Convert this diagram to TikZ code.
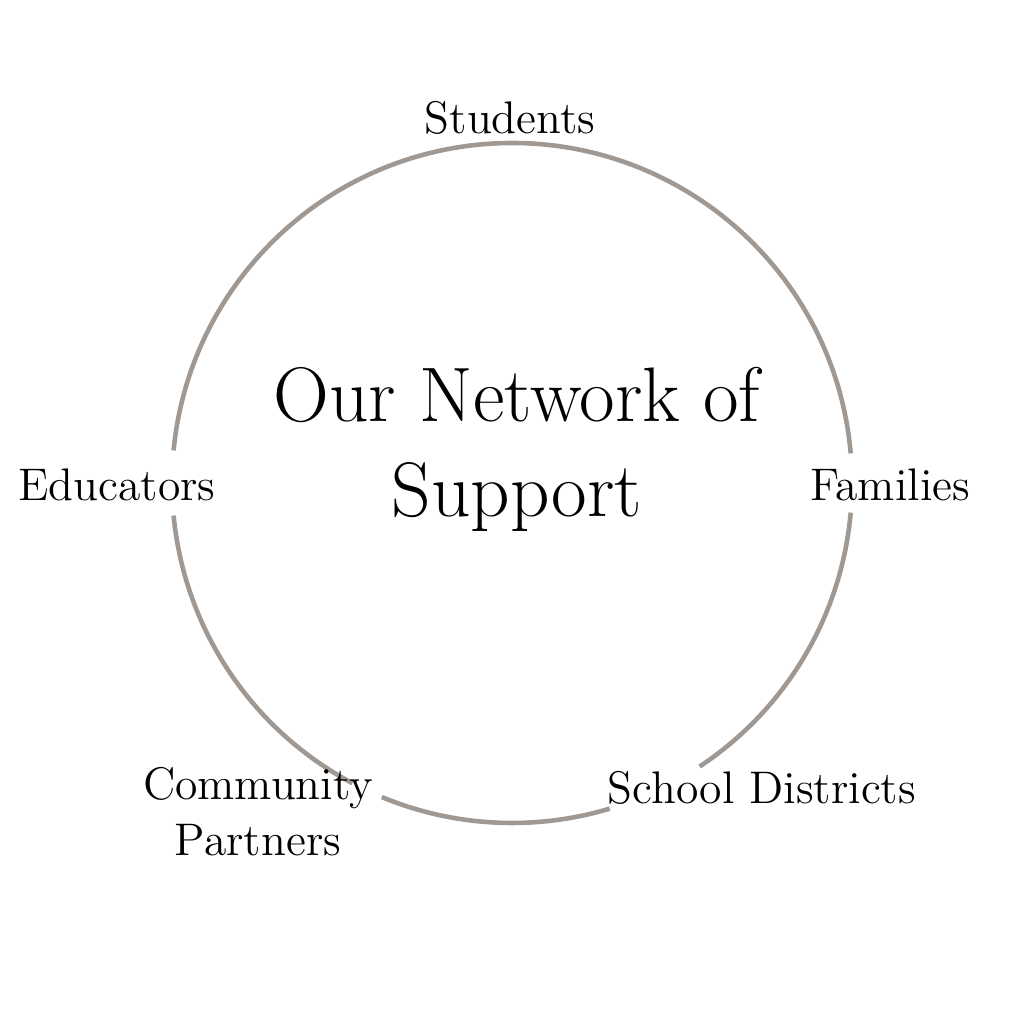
\documentclass[tikz,border=0pt]{standalone}
\usepackage{tikz}
\usetikzlibrary{positioning, calc}
\definecolor{ringgray}{RGB}{160,152,146}
\begin{document}
\begin{tikzpicture}[ring/.style = {ringgray, line width=1.3pt}, lbl/.style = {font=\fontsize{13}{16}\selectfont, align=center}]
\useasboundingbox (0,0) rectangle (10.24,10.24);
\coordinate (c) at (5.12,5.41);
\pgfmathsetmacro{\rad}{3.40} %ring radius
% ring, broken near the labels
\draw[ring] ($(c)+(5:\rad)$) arc (5:174.5:\rad);
\draw[ring] ($(c)+(185.5:\rad)$) arc (185.5:242:\rad);
\draw[ring] ($(c)+(247.5:\rad)$) arc (247.5:286.7:\rad);
\draw[ring] ($(c)+(303.5:\rad)$) arc (303.5:355:\rad);

\node[font=\fontsize{22}{27}\selectfont, align=center] (title) at (5.17,5.75) {Our Network of\\Support};
\node[lbl] (students) at (5.10,9.06) {Students};
\node[lbl] (educators) at (1.17,5.39) {Educators};
\node[lbl] (families) at (8.90,5.39) {Families};
\node[lbl] (community) at (2.58,2.12) {Community\\Partners};
\node[lbl] (districts) at (7.62,2.36) {School Districts};
\end{tikzpicture}
\end{document}
